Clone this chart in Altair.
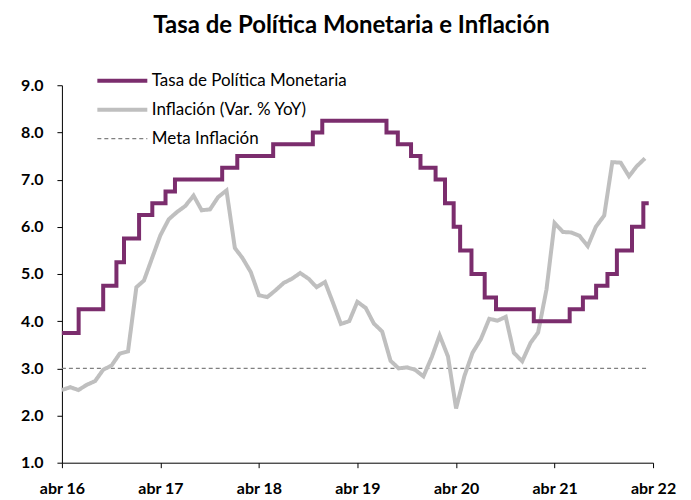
import altair as alt
import pandas as pd

# ---------------- data ----------------
series_names = ["Tasa de Política Monetaria", "Inflación (Var. % YoY)", "Meta Inflación"]
series_colors = ["#7B2D6D", "#BFBFBF", "#808080"]

policy_dates = [
    "2016-04-30", "2016-07-01", "2016-09-30", "2016-11-18", "2016-12-16",
    "2017-02-10", "2017-03-31", "2017-05-19", "2017-06-23", "2017-12-15",
    "2018-02-09", "2018-06-22", "2018-11-16", "2018-12-21",
    "2019-08-16", "2019-09-27", "2019-11-15", "2019-12-20",
    "2020-02-14", "2020-03-20", "2020-04-21", "2020-05-15", "2020-06-26",
    "2020-08-14", "2020-09-25",
    "2021-02-12", "2021-06-25", "2021-08-13", "2021-10-01", "2021-11-12",
    "2021-12-17", "2022-02-11", "2022-03-25", "2022-04-14",
]
policy_values = [
    3.75, 4.25, 4.75, 5.25, 5.75,
    6.25, 6.50, 6.75, 7.00, 7.25,
    7.50, 7.75, 8.00, 8.25,
    8.00, 7.75, 7.50, 7.25,
    7.00, 6.50, 6.00, 5.50, 5.00,
    4.50, 4.25,
    4.00, 4.25, 4.50, 4.75, 5.00,
    5.50, 6.00, 6.50, 6.50,
]

inflation_start = "2016-04-30"
inflation_values = [
    2.54, 2.60, 2.54, 2.65, 2.73, 2.97, 3.06, 3.31, 3.36,
    4.72, 4.86, 5.35, 5.82, 6.16, 6.31, 6.44, 6.66, 6.35, 6.37, 6.63, 6.77,
    5.55, 5.34, 5.04, 4.55, 4.51, 4.65, 4.81, 4.90, 5.02, 4.90, 4.72, 4.83,
    4.37, 3.94, 4.00, 4.41, 4.28, 3.95, 3.78, 3.16, 3.00, 3.02, 2.97, 2.83,
    3.24, 3.70, 3.25, 2.15, 2.84, 3.33, 3.62, 4.05, 4.01, 4.09, 3.33, 3.15,
    3.54, 3.76, 4.67, 6.08, 5.89, 5.88, 5.81, 5.59, 6.00, 6.24, 7.37, 7.36,
    7.07, 7.28, 7.45,
]
inflation_dates = pd.date_range(inflation_start, periods=len(inflation_values),
                                freq=pd.offsets.MonthEnd()).strftime("%Y-%m-%d").tolist()

meta_dates = ["2016-04-30", "2022-04-15"]
meta_values = [3.0, 3.0]

x_tick_years = [2016, 2017, 2018, 2019, 2020, 2021, 2022]
y_ticks = [1, 2, 3, 4, 5, 6, 7, 8, 9]

df_pol = pd.DataFrame({"fecha": policy_dates, "valor": policy_values, "serie": series_names[0]})
df_inf = pd.DataFrame({"fecha": inflation_dates, "valor": inflation_values, "serie": series_names[1]})
df_meta = pd.DataFrame({"fecha": meta_dates, "valor": meta_values, "serie": series_names[2]})

FONT = "Lato"

legend = alt.Legend(
    title=None,
    orient="none",
    legendX=52,
    legendY=-13,
    padding=0,
    symbolType="M-4.17,0H4.17",
    symbolSize=144,
    symbolStrokeWidth={"expr": "datum.value === 'Meta Inflación' ? 1.3 : 4"},
    labelOffset=21,
    rowPadding=11,
    labelFont=FONT,
    labelFontSize=17,
    labelColor="#000000",
    labelLimit=400,
)

x_enc = alt.X(
    "fecha:T",
    scale=alt.Scale(type="utc",
                    domain=[alt.DateTime(year=2016, month=4, date=30, utc=True),
                            alt.DateTime(year=2022, month=4, date=30, utc=True)]),
    axis=alt.Axis(
        values=[alt.DateTime(year=y, month=4, date=30, utc=True) for y in x_tick_years],
        labelExpr="'abr ' + utcFormat(datum.value, '%y')",
        title=None, grid=False,
        domainColor="#000000", tickColor="#000000", tickSize=5,
        labelFont=FONT, labelFontSize=16, labelFontWeight="bold", labelColor="#000000",
        labelPadding=13, labelFlush=False, labelOverlap=False,
    ),
)
y_enc = alt.Y(
    "valor:Q",
    scale=alt.Scale(domain=[1, 9], nice=False, zero=False),
    axis=alt.Axis(
        values=y_ticks, format=".1f", title=None, grid=False,
        domainColor="#000000", tickColor="#000000", tickSize=5,
        labelFont=FONT, labelFontSize=16, labelFontWeight="bold", labelColor="#000000",
        labelPadding=14,
    ),
)
color_enc = alt.Color("serie:N", scale=alt.Scale(domain=series_names, range=series_colors), legend=legend)
dash_enc = alt.StrokeDash("serie:N", scale=alt.Scale(domain=series_names, range=[[1, 0], [1, 0], [4, 3]]), legend=legend)

meta = alt.Chart(df_meta).mark_line(strokeWidth=1.3).encode(x=x_enc, y=y_enc, color=color_enc, strokeDash=dash_enc)
infl = alt.Chart(df_inf).mark_line(strokeWidth=4).encode(x=x_enc, y=y_enc, color=color_enc, strokeDash=dash_enc)
pol = alt.Chart(df_pol).mark_line(strokeWidth=4, interpolate="step-after").encode(x=x_enc, y=y_enc, color=color_enc, strokeDash=dash_enc)

chart = alt.layer(meta, infl, pol).properties(
    width=592,
    height=378,
    autosize=alt.AutoSizeParams(type="none"),
    padding={"left": 54, "top": 77, "right": 30, "bottom": 36},
    title=alt.Title("Tasa de Política Monetaria e Inflación", font=FONT, fontSize=24,
                    fontWeight="bold", color="#000000", anchor="middle", dx=-6, offset=34),
).configure_view(stroke=None)

chart.save("out.html", embed_options={"renderer": "svg", "actions": False})
